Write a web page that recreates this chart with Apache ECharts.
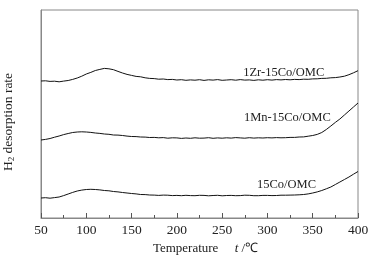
<!DOCTYPE html>
<html>
<head>
<meta charset="utf-8">
<script src="https://cdn.jsdelivr.net/npm/echarts@6/dist/echarts.min.js"></script>
<style>
  html, body { margin: 0; padding: 0; background: #fff; }
  #chart { width: 377px; height: 260px; }
</style>
</head>
<body>
<div id="chart"></div>
<script>
// temperature, t / C (every 5 degrees, 50..400)
var temps = [];
for (var t = 50; t <= 400; t += 5) temps.push(t);

// H2 desorption rate (a.u., curves offset vertically), one row = 50 degrees
var zrCo = [
  137, 137.2, 136.6, 136.8, 136.2, 136.9, 137.5, 138.6, 140, 141.8,
  144, 145.6, 147.5, 148.6, 149.6, 149.2, 148.3, 146.6, 145, 143.6,
  142.6, 141.6, 141.2, 140.2, 139.6, 139.4, 138.8, 139, 138.4, 138.6,
  138, 138.3, 137.7, 138.1, 137.8, 138.3, 137.6, 138.2, 137.9, 138.4,
  137.7, 138, 138.3, 137.8, 138.4, 137.9, 138.1, 137.6, 138.2, 137.8,
  138.3, 137.9, 138.4, 138.1, 138.5, 138.2, 138.6, 138.4, 138.8, 138.7,
  139.1, 139.2, 139.6, 139.7, 140.2, 140.4, 141, 141.8, 143.3, 145.2,
  147.3];
var mnCo = [
  78, 78.6, 79.5, 80.8, 82, 83.4, 84.5, 85.5, 86, 86.2,
  86, 85.6, 85, 84.6, 84, 83.7, 83, 82.9, 82.5, 81.9,
  81.5, 81.4, 81, 80.9, 80.5, 80.6, 80.2, 80.4, 79.8, 80.2,
  80.1, 79.6, 80, 79.7, 80.2, 79.8, 79.9, 80.3, 79.7, 80.1,
  79.8, 80.2, 79.9, 80.4, 80.1, 79.8, 80.3, 79.9, 80.2, 80,
  80.3, 80.1, 80.4, 80.2, 80.3, 80.6, 80.6, 81, 81.1, 81.8,
  82.5, 83.6, 85.5, 88.5, 92, 95.6, 99, 103, 107, 111,
  115];
var co = [
  20, 20.3, 19.8, 20.4, 21, 22.4, 24, 25.6, 27, 27.9,
  28.5, 28.7, 28.5, 28.1, 27.5, 27.2, 26.5, 26.1, 25.5, 25,
  24.5, 24.1, 23.5, 23.4, 23, 22.9, 22.6, 22.9, 22.8, 22.4,
  22.6, 22.3, 22.7, 22.4, 22.3, 22.7, 22.6, 22.2, 22.5, 22.7,
  22.2, 22.5, 22.6, 22.3, 22.4, 22.8, 22.7, 22.3, 22.3, 22.6,
  22.6, 22.4, 22.5, 22.8, 22.8, 22.9, 23, 23.2, 23.5, 24.1,
  25, 26.1, 27.5, 29.2, 31, 33.5, 36, 38.5, 41, 43.8,
  46.5];

var seriesNames = ['1Zr-15Co/OMC', '1Mn-15Co/OMC', '15Co/OMC'];
var labelAt = [[318, 145.3], [322, 100], [321, 33]];

function pair(vals) {
  return temps.map(function (t, i) { return [t, vals[i]]; });
}

var chart = echarts.init(document.getElementById('chart'));
var font = 'Liberation Serif, Times New Roman, serif';

function makeSeries(name, vals, pos) {
  return {
    name: name,
    type: 'line',
    data: pair(vals),
    showSymbol: false,
    smooth: false,
    lineStyle: { color: '#111', width: 1 },
    markPoint: {
      symbol: 'circle',
      symbolSize: 1,
      itemStyle: { color: 'transparent' },
      label: {
        show: true,
        position: 'inside',
        formatter: name,
        color: '#222',
        fontFamily: font,
        fontSize: 12.5
      },
      data: [{ coord: pos }]
    }
  };
}

chart.setOption({
  animation: false,
  grid: {
    left: 41,
    right: 19,
    top: 10,
    bottom: 42,
    outerBoundsMode: 'none',
    containLabel: false,
    show: true,
    borderColor: '#888',
    borderWidth: 1
  },
  xAxis: {
    type: 'value',
    min: 50,
    max: 400,
    interval: 50,
    axisLine: { lineStyle: { color: '#888' } },
    axisTick: { inside: true, length: 5, lineStyle: { color: '#555' } },
    minorTick: { show: true, splitNumber: 2, length: 3, lineStyle: { color: '#555' } },
    splitLine: { show: false },
    axisLabel: { color: '#222', fontFamily: font, fontSize: 13.5, margin: 5 },
    name: '{a|Temperature}{a|     }{i|t}{a| /℃}',
    nameLocation: 'middle',
    nameGap: 24,
    nameTextStyle: {
      padding: [0, 0, 0, 12],
      rich: {
        a: { fontFamily: font, fontSize: 13, color: '#222' },
        i: { fontFamily: font, fontSize: 13, fontStyle: 'italic', color: '#222' }
      }
    }
  },
  yAxis: {
    type: 'value',
    min: 0,
    max: 208,
    axisLine: { show: true, lineStyle: { color: '#888' } },
    axisTick: { show: false },
    axisLabel: { show: false },
    splitLine: { show: false },
    name: '{a|H}{s|2}{a| desorption rate}',
    nameLocation: 'middle',
    nameGap: 25,
    nameTextStyle: {
      padding: [0, 16, 0, 0],
      rich: {
        a: { fontFamily: font, fontSize: 13.5, color: '#222' },
        s: { fontFamily: font, fontSize: 9, color: '#222', verticalAlign: 'bottom', padding: [6, 0, 0, 0] }
      }
    }
  },
  series: [
    makeSeries(seriesNames[0], zrCo, labelAt[0]),
    makeSeries(seriesNames[1], mnCo, labelAt[1]),
    makeSeries(seriesNames[2], co, labelAt[2])
  ]
});
</script>
</body>
</html>
